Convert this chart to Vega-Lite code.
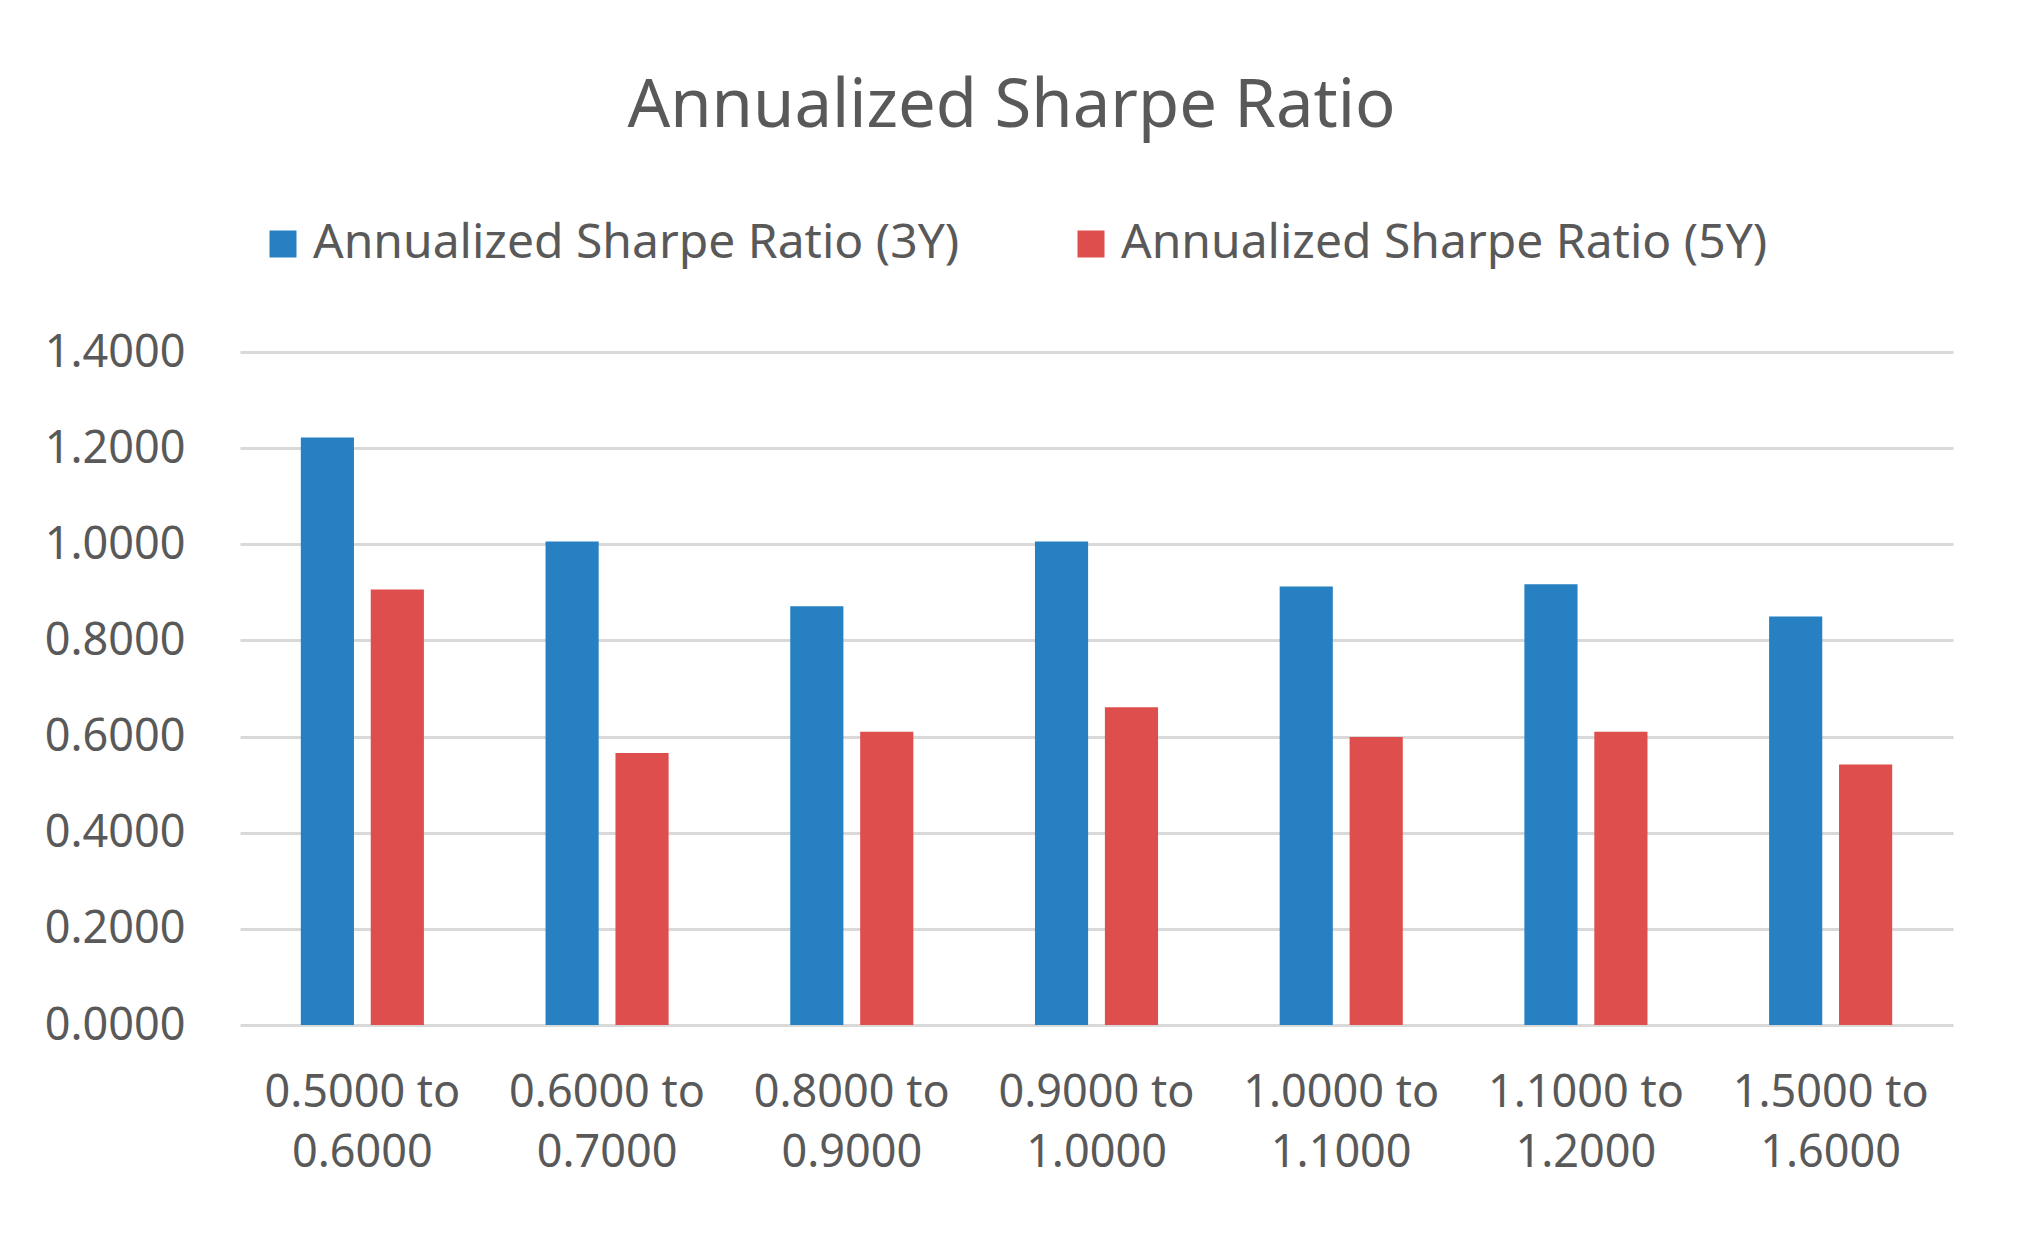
{
  "$schema": "https://vega.github.io/schema/vega-lite/v6.json",
  "autosize": {"type": "none"},
  "width": 1713,
  "height": 673,
  "padding": {"left": 240, "top": 352, "right": 79, "bottom": 214},
  "background": "white",
  "title": {
    "text": "Annualized Sharpe Ratio",
    "fontSize": 67,
    "font": "Noto Sans",
    "fontWeight": "normal",
    "color": "#595959",
    "anchor": "middle",
    "frame": "group",
    "dx": -85,
    "offset": 79
  },
  "data": {
    "values": [
      {"range": "0.5000 to 0.6000", "series": "Annualized Sharpe Ratio (3Y)", "value": 1.222},
      {"range": "0.5000 to 0.6000", "series": "Annualized Sharpe Ratio (5Y)", "value": 0.906},
      {"range": "0.6000 to 0.7000", "series": "Annualized Sharpe Ratio (3Y)", "value": 1.006},
      {"range": "0.6000 to 0.7000", "series": "Annualized Sharpe Ratio (5Y)", "value": 0.566},
      {"range": "0.8000 to 0.9000", "series": "Annualized Sharpe Ratio (3Y)", "value": 0.871},
      {"range": "0.8000 to 0.9000", "series": "Annualized Sharpe Ratio (5Y)", "value": 0.610},
      {"range": "0.9000 to 1.0000", "series": "Annualized Sharpe Ratio (3Y)", "value": 1.006},
      {"range": "0.9000 to 1.0000", "series": "Annualized Sharpe Ratio (5Y)", "value": 0.661},
      {"range": "1.0000 to 1.1000", "series": "Annualized Sharpe Ratio (3Y)", "value": 0.912},
      {"range": "1.0000 to 1.1000", "series": "Annualized Sharpe Ratio (5Y)", "value": 0.599},
      {"range": "1.1000 to 1.2000", "series": "Annualized Sharpe Ratio (3Y)", "value": 0.917},
      {"range": "1.1000 to 1.2000", "series": "Annualized Sharpe Ratio (5Y)", "value": 0.610},
      {"range": "1.5000 to 1.6000", "series": "Annualized Sharpe Ratio (3Y)", "value": 0.850},
      {"range": "1.5000 to 1.6000", "series": "Annualized Sharpe Ratio (5Y)", "value": 0.542}
    ]
  },
  "mark": {"type": "bar"},
  "encoding": {
    "x": {
      "field": "range",
      "type": "nominal",
      "sort": null,
      "scale": {"paddingInner": 0.497, "paddingOuter": 0.2485},
      "axis": {
        "title": null,
        "labelAngle": 0,
        "labelExpr": "[slice(datum.label, 0, 9), slice(datum.label, 10)]",
        "labelFontSize": 45,
        "labelLineHeight": 60,
        "labelPadding": 45,
        "labelLimit": 600,
        "labelColor": "#595959",
        "labelFont": "Noto Sans",
        "ticks": false,
        "domain": false
      }
    },
    "xOffset": {
      "field": "series",
      "type": "nominal",
      "scale": {"paddingInner": 0.24, "paddingOuter": 0}
    },
    "y": {
      "field": "value",
      "type": "quantitative",
      "scale": {"domain": [0, 1.4]},
      "axis": {
        "title": null,
        "values": [0, 0.2, 0.4, 0.6, 0.8, 1.0, 1.2, 1.4],
        "format": ".4f",
        "labelFontSize": 45,
        "labelColor": "#595959",
        "labelFont": "Noto Sans",
        "labelPadding": 55,
        "ticks": false,
        "domain": false,
        "grid": true,
        "gridColor": "#D9D9D9",
        "gridWidth": 3
      }
    },
    "color": {
      "field": "series",
      "type": "nominal",
      "scale": {
        "domain": ["Annualized Sharpe Ratio (3Y)", "Annualized Sharpe Ratio (5Y)"],
        "range": ["#2680C2", "#DE4E4D"]
      },
      "legend": {
        "title": null,
        "orient": "none",
        "direction": "horizontal",
        "legendX": 19,
        "legendY": -132,
        "symbolType": "square",
        "symbolSize": 729,
        "symbolStrokeWidth": 0,
        "labelFontSize": 48,
        "labelFont": "Noto Sans",
        "labelColor": "#595959",
        "labelOffset": 6,
        "columnPadding": 107,
        "labelLimit": 1000
      }
    }
  },
  "config": {
    "view": {"stroke": null}
  }
}
